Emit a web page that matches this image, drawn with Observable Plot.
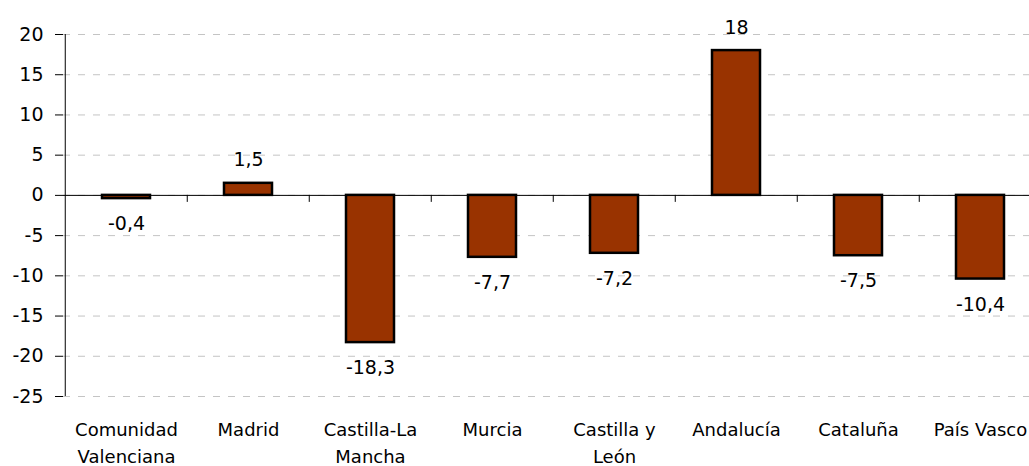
<!DOCTYPE html>
<html>
<head>
<meta charset="utf-8">
<script src="https://cdn.jsdelivr.net/npm/d3@7"></script>
<script src="https://cdn.jsdelivr.net/npm/@observablehq/plot@0.6"></script>
<style>
  html, body { margin: 0; padding: 0; background: #fff; }
  #chart { width: 1029px; height: 466px; overflow: hidden; }
</style>
</head>
<body>
<div id="chart"></div>
<script>
const categories = ["Comunidad Valenciana", "Madrid", "Castilla-La Mancha", "Murcia", "Castilla y León", "Andalucía", "Cataluña", "País Vasco"];
const tickLabels = ["Comunidad\nValenciana", "Madrid", "Castilla-La\nMancha", "Murcia", "Castilla y\nLeón", "Andalucía", "Cataluña", "País Vasco"];
const values = [-0.4, 1.5, -18.3, -7.7, -7.2, 18, -7.5, -10.4];
const yTicks = [-25, -20, -15, -10, -5, 0, 5, 10, 15, 20];

const data = categories.map((c, i) => ({region: c, value: values[i]}));
const labelOf = new Map(categories.map((c, i) => [c, tickLabels[i]]));
const fmt = v => String(v).replace(".", ",");

const W = 1029, H = 466;
const xRange = [63, 1043];
const half = (xRange[1] - xRange[0]) / categories.length / 2;
const font = "DejaVu Sans";

const chart = Plot.plot({
  width: W,
  height: H,
  marginLeft: 63,
  marginRight: 0,
  marginTop: 34,
  marginBottom: 70,
  style: {fontFamily: font, fontSize: "19px", color: "black", background: "white"},
  x: {domain: categories, range: xRange, padding: 0},
  y: {domain: [d3.min(yTicks), d3.max(yTicks)]},
  marks: [
    Plot.ruleY(yTicks, {stroke: "#c4c4c4", strokeWidth: 1, strokeDasharray: "7,8"}),
    Plot.barY(data, {x: "region", y: "value", fill: "#993300", stroke: "black", strokeWidth: 2.5, insetLeft: 37, insetRight: 37}),
    Plot.ruleY([0], {stroke: "black", strokeWidth: 1}),
    Plot.ruleX(categories.slice(1), {x: d => d, dx: -half, y1: () => 0, y2: () => 0, insetBottom: -7, stroke: "black"}),
    Plot.ruleX([categories[0]], {x: d => d, dx: -half, y1: () => d3.min(yTicks), y2: () => d3.max(yTicks), stroke: "black"}),
    Plot.axisY({ticks: yTicks, tickSize: 8, tickPadding: 12, tickFormat: d => String(d), fontSize: 19, label: null}),
    Plot.axisX({tickSize: 0, tickPadding: 20, fontSize: 18, lineHeight: 1.5, tickFormat: d => labelOf.get(d), label: null}),
    Plot.text(data.filter(d => d.value >= 0), {x: "region", y: "value", text: d => fmt(d.value), lineAnchor: "bottom", dy: -17, fontSize: 19, fill: "black"}),
    Plot.text(data.filter(d => d.value < 0), {x: "region", y: "value", text: d => fmt(d.value), lineAnchor: "top", dy: 18, fontSize: 19, fill: "black"})
  ]
});
document.getElementById("chart").appendChild(chart);
</script>
</body>
</html>
